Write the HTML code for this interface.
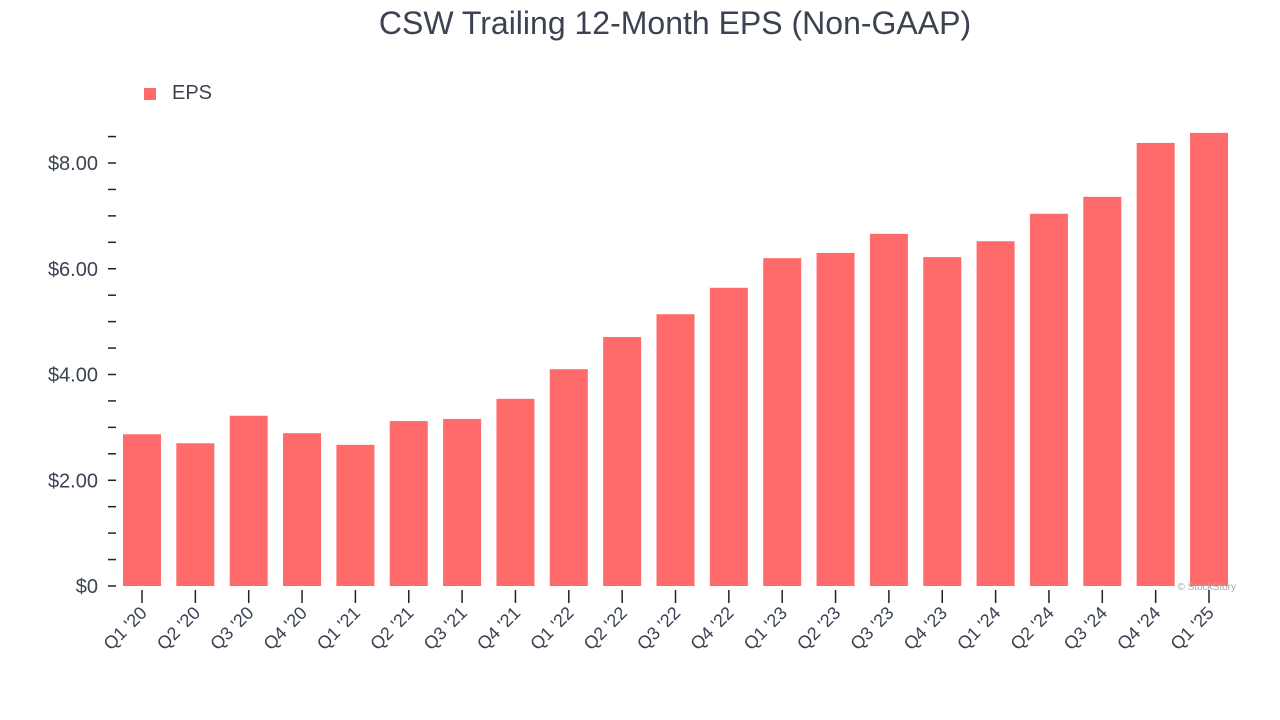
<!DOCTYPE html>
<html><head><meta charset="utf-8"><style>
body{margin:0;background:#fff;font-family:"Liberation Sans",Arial,sans-serif;}
svg{display:block}
</style></head><body>
<svg id="chart" width="1280" height="720">
<text x="675" y="34" text-anchor="middle" font-size="32" fill="#3b4252">CSW Trailing 12-Month EPS (Non-GAAP)</text>
<g>
<rect x="144" y="88" width="12" height="12" fill="#ff6b6b"/>
<text x="172" y="99" font-size="20" fill="#3b4252">EPS</text>
</g>
<g id="yaxis"></g>
<g id="xaxis"></g>
<g id="bars"></g>
<text x="1236" y="590" text-anchor="end" font-size="10" fill="#aaa">© StockStory</text>
</svg>
<script>
const categories=["Q1 '20","Q2 '20","Q3 '20","Q4 '20","Q1 '21","Q2 '21","Q3 '21","Q4 '21","Q1 '22","Q2 '22","Q3 '22","Q4 '22","Q1 '23","Q2 '23","Q3 '23","Q4 '23","Q1 '24","Q2 '24","Q3 '24","Q4 '24","Q1 '25"];
const epsValues=[2.87,2.70,3.22,2.89,2.67,3.12,3.16,3.54,4.10,4.71,5.14,5.64,6.20,6.30,6.66,6.22,6.52,7.04,7.36,8.38,8.57];
const yTickValues=[0,2,4,6,8];
const yTickLabels=["$0","$2.00","$4.00","$6.00","$8.00"];
const NS="http://www.w3.org/2000/svg";
const y0=586,pxPer=52.875,x0=142,step=53.35,bw=38;
const yScale=v=>y0-v*pxPer;
const xScale=i=>x0+i*step;
function mk(t,a,p){const e=document.createElementNS(NS,t);for(const k in a)e.setAttribute(k,a[k]);p.appendChild(e);return e;}
const ya=document.getElementById('yaxis'),xa=document.getElementById('xaxis'),bg=document.getElementById('bars');
for(let v=0;v<=8.5001;v+=0.5){
 const l=mk('line',{x1:108,x2:116,y1:yScale(v),y2:yScale(v),stroke:'#222','stroke-width':1.5},ya);
 
 
}
yTickValues.forEach((v,i)=>{
 const t=mk('text',{x:98,y:yScale(v)+7,'text-anchor':'end','font-size':20,fill:'#3b4252'},ya);
 t.textContent=yTickLabels[i];
 
 
});
categories.forEach((c,i)=>{
 const x=xScale(i);
 const r=mk('rect',{x:x-bw/2,y:yScale(epsValues[i]),width:bw,height:epsValues[i]*pxPer,fill:'#ff6b6b'},bg);
 
 
 const tk=mk('line',{x1:x,x2:x,y1:590,y2:603,stroke:'#222','stroke-width':1.5},xa);
 
 
 const t=mk('text',{x:x+6,y:614,'text-anchor':'end','font-size':18,fill:'#3b4252',transform:`rotate(-45 ${x+6} 614)`},xa);
 t.textContent=c;
 
 
});
</script>
</body></html>
